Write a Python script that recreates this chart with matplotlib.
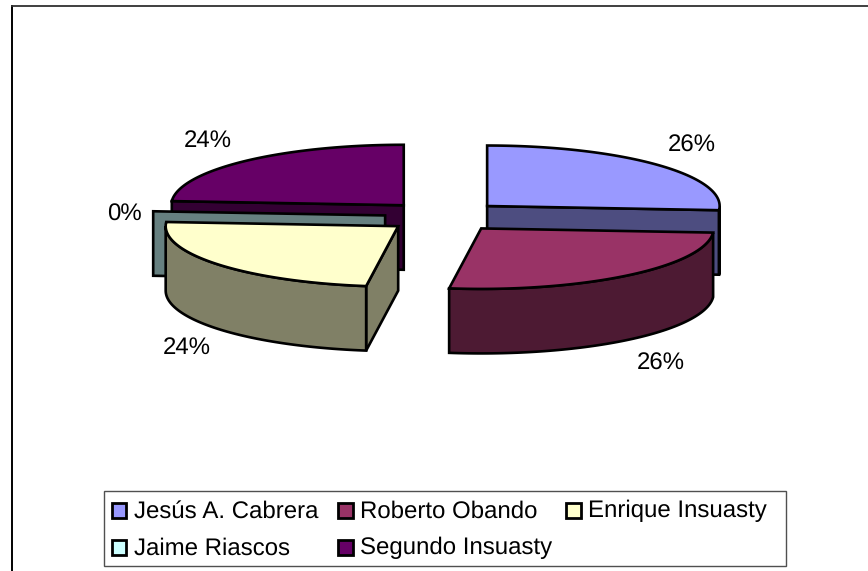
import matplotlib
matplotlib.use('Agg')
import matplotlib.pyplot as plt
from matplotlib.patches import Polygon, Rectangle
import numpy as np

names = ['Jesús A. Cabrera', 'Roberto Obando', 'Enrique Insuasty', 'Jaime Riascos', 'Segundo Insuasty']
values = [26.1, 26.1, 23.9, 0, 23.9]
top_colors = ['#9999FF', '#993366', '#FFFFCC', '#CCFFFF', '#660066']
side_colors = ['#4D4D80', '#4D1A33', '#808066', '#668080', '#330033']

# pie geometry, in pixels
cx, cy = 444, 216.5
rx, ry = 232.5, 60.5
depth = 64.5
explode = 59
edge = 1.9

plt.rcParams['font.family'] = ['Liberation Sans', 'DejaVu Sans']
plt.rcParams['text.hinting'] = 'no_hinting'
plt.rcParams['text.hinting_factor'] = 1

fig = plt.figure(figsize=(8.68, 5.71), dpi=100)
ax = fig.add_axes([0, 0, 1, 1])
ax.set_xlim(0, 868)
ax.set_ylim(571, 0)
ax.axis('off')

# chart frame: only the left and top sides are inside the picture
ax.plot([11.5, 11.5], [6, 571], color='black', lw=1.4, zorder=0)
ax.plot([11.5, 868], [6, 6], color='#303030', lw=1.3, zorder=0)


def point(c, a):
    return (c[0] + rx * np.sin(a), c[1] - ry * np.cos(a))


def poly(pts, fc, z):
    ax.add_patch(Polygon(pts, closed=True, fc=fc, ec='black', lw=edge, joinstyle='miter', zorder=z))


def wall(c, a, fc, z):
    p = point(c, a)
    poly([c, p, (p[0], p[1] + depth), (c[0], c[1] + depth)], fc, z)


total = sum(values)
bounds = np.radians(np.cumsum([0] + values) / total * 360)

# draw order: back slices first, then the zero slice, then the front ones
for z, i in zip([1, 2, 3, 4, 5], [4, 0, 3, 1, 2]):
    a0, a1 = bounds[i], bounds[i + 1]
    mid = (a0 + a1) / 2
    c = (cx + explode * np.sin(mid), cy - explode * ry / rx * np.cos(mid))
    # radial faces that look towards the viewer
    if np.sin(a0) < -1e-6:
        wall(c, a0, side_colors[i], z)
    if np.sin(a1) > 1e-6:
        wall(c, a1, side_colors[i], z)
    # outer rim, only the front half of the ellipse shows
    r0, r1 = max(a0, np.pi / 2), min(a1, 3 * np.pi / 2)
    if r1 > r0:
        t = np.linspace(r0, r1, 80)
        up = [point(c, a) for a in t]
        down = [(x, y + depth) for x, y in up]
        poly(up + down[::-1], side_colors[i], z)
    if a1 > a0:
        t = np.linspace(a0, a1, 80)
        poly([c] + [point(c, a) for a in t], top_colors[i], z)

# percentage labels, y is the text baseline
label_pos = [(691.5, 152), (660.5, 369.5), (186.5, 353.5), (124, 221), (208, 147)]
for v, pos in zip(values, label_pos):
    ax.text(pos[0], pos[1], '{:.0f}%'.format(v / total * 100), fontsize=17.3,
            ha='center', va='baseline', color='black', zorder=10)

# legend
ax.add_patch(Rectangle((103.5, 491), 682, 75, fc='white', ec='#505050', lw=1, zorder=8))
legend_pos = [(111.5, 510), (338, 510), (566, 510), (111.5, 547), (338, 547)]
for name, col, pos in zip(names, top_colors, legend_pos):
    ax.add_patch(Rectangle((pos[0], pos[1] - 7), 14.5, 14.5, fc=col, ec='black', lw=2, zorder=9))
    ax.text(pos[0] + 22, pos[1] + 7.5, name, fontsize=17.3, ha='left', va='baseline',
            color='black', zorder=10)

fig.savefig('out.png', dpi=100)
